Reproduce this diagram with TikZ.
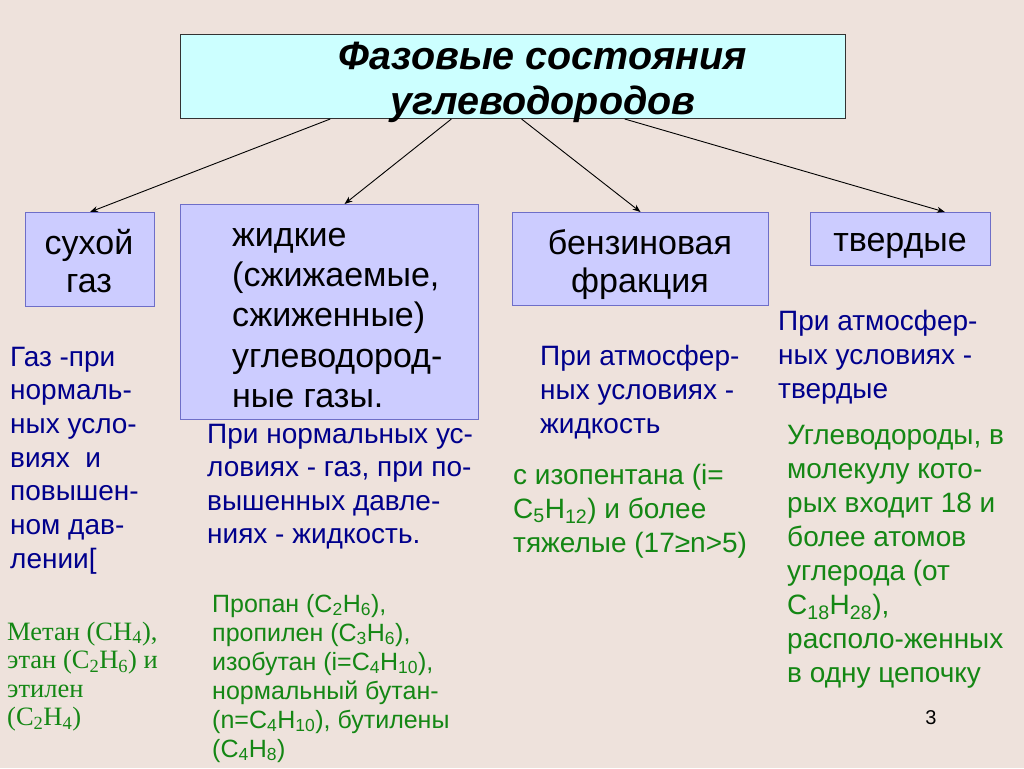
\documentclass[tikz,border=0pt]{standalone}
\usepackage{fontspec}
\setmainfont{Liberation Sans}
\newfontfamily\serifgreen{Liberation Serif}
\usetikzlibrary{arrows.meta,calc}
\definecolor{bgc}{RGB}{238,226,220}
\definecolor{cyanfill}{RGB}{204,255,255}
\definecolor{lavfill}{RGB}{204,204,255}
\definecolor{lavborder}{RGB}{110,110,200}
\definecolor{bluetext}{RGB}{0,0,140}
\definecolor{greentext}{RGB}{20,135,20}
\tikzset{
  titlebox/.style={draw=black!80, fill=cyanfill, line width=1pt, inner sep=0, anchor=north west},
  catbox/.style={draw=lavborder, fill=lavfill, line width=1pt, inner sep=0, anchor=north west},
  boxtext/.style={anchor=base, inner sep=0, align=center, text=black, font=\fontsize{34}{38}\selectfont},
  titletext/.style={anchor=base, inner sep=0, align=center, text=black, font=\fontsize{39.5}{45}\selectfont\bfseries\itshape},
  bluenote/.style={anchor=base west, inner sep=0, align=left, text=bluetext, font=\fontsize{28}{34}\selectfont},
  greennote/.style={anchor=base west, inner sep=0, align=left, text=greentext, font=\fontsize{28}{34}\selectfont},
  greensmall/.style={anchor=base west, inner sep=0, align=left, text=greentext, font=\fontsize{25}{29}\selectfont},
  greenserif/.style={anchor=base west, inner sep=0, align=left, text=greentext, font=\serifgreen\fontsize{26.5}{28.5}\selectfont},
  arr/.style={draw=black, line width=0.9pt, -{Stealth[length=8pt,width=6pt]}}
}
\begin{document}
\begin{tikzpicture}[x=1pt,y=-1pt]
\useasboundingbox (0,0) rectangle (1024,768);
\fill[bgc] (0,0) rectangle (1024,768);

% title (base anchor = baseline of last line)
\node[titlebox, minimum width=665pt, minimum height=84pt] (title) at (180,34) {};
\node[titletext] (titletxt) at (543,114) {Фазовые состояния\\углеводородов};

% category boxes
\node[catbox, minimum width=129pt, minimum height=94pt] (dry) at (25,212) {};
\node[boxtext] (drytxt) at (89,292) {сухой\\газ};

\node[catbox, minimum width=298pt, minimum height=215pt] (liq) at (180,204) {};
\node[boxtext, anchor=base west, align=left, font=\fontsize{34}{40.4}\selectfont] (liqtxt) at (232,407.6) {жидкие\\(сжижаемые,\\сжиженные)\\углеводород-\\ные газы.};

\node[catbox, minimum width=256pt, minimum height=93pt] (gas) at (512,212) {};
\node[boxtext] (gastxt) at (640,292) {бензиновая\\фракция};

\node[catbox, minimum width=180pt, minimum height=53pt] (solid) at (810,212) {};
\node[boxtext] (solidtxt) at (900,251) {твердые};

% arrows
\draw[arr] ($(title.south west)!0.2256!(title.south east)$) -- (dry.north);
\draw[arr] ($(title.south west)!0.4075!(title.south east)$) -- ($(liq.north)+(15,0)$);
\draw[arr] ($(title.south west)!0.5128!(title.south east)$) -- (gas.north);
\draw[arr] ($(title.south west)!0.6677!(title.south east)$) -- ($(solid.north west)!0.745!(solid.north east)$);

% blue notes
\node[bluenote, font=\fontsize{28}{33.7}\selectfont] (n1) at (10,568.2) {Газ -при\\нормаль-\\ных усло-\\виях\ \ и\\повышен-\\ном дав-\\лении[};
\node[bluenote, font=\fontsize{28}{33.5}\selectfont] (n2) at (207,543.5) {При нормальных ус-\\ловиях - газ, при по-\\вышенных давле-\\ниях - жидкость.};
\node[bluenote] (n3) at (540,433) {При атмосфер-\\ных условиях -\\жидкость};
\node[bluenote] (n4) at (778,398) {При атмосфер-\\ных условиях -\\твердые};

% green notes
\node[greennote] (g3) at (513,552) {с изопентана (i=\\C\textsubscript{5}H\textsubscript{12}) и более\\тяжелые (17≥n>5)};
\node[greennote] (g4) at (787,682) {Углеводороды, в\\молекулу кото-\\рых входит 18 и\\более атомов\\углерода (от\\C\textsubscript{18}H\textsubscript{28}),\\располо-женных\\в одну цепочку};
\node[greensmall] (g2) at (212,757) {Пропан (C\textsubscript{2}H\textsubscript{6}),\\пропилен (C\textsubscript{3}H\textsubscript{6}),\\изобутан (i=C\textsubscript{4}H\textsubscript{10}),\\нормальный бутан-\\(n=C\textsubscript{4}H\textsubscript{10}), бутилены\\(C\textsubscript{4}H\textsubscript{8})};
\node[greenserif] (g1) at (7,725.5) {Метан (CH\textsubscript{4}),\\этан (C\textsubscript{2}H\textsubscript{6}) и\\этилен\\(C\textsubscript{2}H\textsubscript{4})};

% page number
\node[anchor=base, inner sep=0, font=\fontsize{20}{24}\selectfont] (pagenum) at (931,724) {3};
\end{tikzpicture}
\end{document}
